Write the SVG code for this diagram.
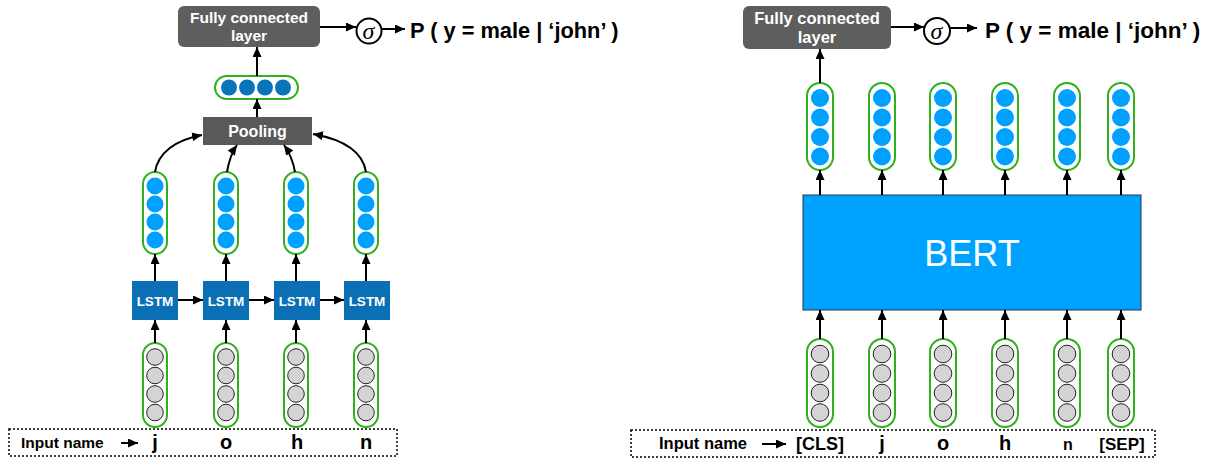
<svg xmlns="http://www.w3.org/2000/svg" xmlns:xlink="http://www.w3.org/1999/xlink" width="1205" height="461" viewBox="0 0 1205 461">
<style>
.fc{fill:#5E5E5E;}
.gbox{fill:#595959;}
.lstm{fill:#0A6FB5;}
.wt{fill:#fff;font-family:"Liberation Sans",Arial,sans-serif;font-weight:bold;text-anchor:middle;}
.bt{fill:#000;font-family:"Liberation Sans",Arial,sans-serif;font-weight:bold;}
.pill{fill:#fff;stroke:#2FB01C;stroke-width:2;}
.cb{fill:#00A0FF;}
.cd{fill:#0A74BA;}
.cg{fill:#D4D4D4;stroke:#222;stroke-width:1;}
.ln{stroke:#000;stroke-width:2;fill:none;}
.sg{fill:#fff;stroke:#000;stroke-width:2;}
.st{font-family:"Liberation Serif",serif;font-style:italic;text-anchor:middle;fill:#000;}
</style>
<defs>
<marker id="ah" markerUnits="userSpaceOnUse" markerWidth="10" markerHeight="9" refX="10" refY="4.5" orient="auto">
<path d="M0,0 L10,4.5 L0,9 z" fill="#000"/>
</marker>
<g id="outL"><rect class="pill" x="-12" y="0" width="24" height="82" rx="12"/><circle class="cb" cx="0" cy="14" r="8.5"/><circle class="cb" cx="0" cy="32" r="8.5"/><circle class="cb" cx="0" cy="50" r="8.5"/><circle class="cb" cx="0" cy="68" r="8.5"/></g>
<g id="inL"><rect class="pill" x="-12" y="0" width="24" height="84" rx="12"/><circle class="cg" cx="0" cy="14" r="8.3"/><circle class="cg" cx="0" cy="32.5" r="8.3"/><circle class="cg" cx="0" cy="51" r="8.3"/><circle class="cg" cx="0" cy="69.5" r="8.3"/></g>
<g id="outR"><rect class="pill" x="-13" y="0" width="26" height="87" rx="13"/><circle class="cb" cx="0" cy="15" r="9"/><circle class="cb" cx="0" cy="34.5" r="9"/><circle class="cb" cx="0" cy="54" r="9"/><circle class="cb" cx="0" cy="73.5" r="9"/></g>
<g id="inR"><rect class="pill" x="-13" y="0" width="26" height="88" rx="13"/><circle class="cg" cx="0" cy="15" r="8.8"/><circle class="cg" cx="0" cy="34.5" r="8.8"/><circle class="cg" cx="0" cy="54" r="8.8"/><circle class="cg" cx="0" cy="73.5" r="8.8"/></g>
</defs>
<rect width="1205" height="461" fill="#fff"/>

<!-- LEFT: LSTM model -->
<g id="fcL"><rect class="fc" x="178" y="6" width="142" height="41" rx="6"/><text class="wt" x="249" y="23" font-size="15.5">Fully connected</text><text class="wt" x="249" y="41" font-size="15.5">layer</text></g>
<g id="sigmaL"><circle class="sg" cx="369" cy="31" r="12.5"/><text class="st" x="368.5" y="38.5" font-size="24">σ</text></g>
<g id="probL"><text class="bt" x="410" y="38" font-size="21.8">P ( y = male | ‘john’ )</text></g>
<g id="pooledL"><rect class="pill" x="215" y="76" width="83" height="23" rx="11.5"/><circle class="cd" cx="229" cy="87.5" r="8"/><circle class="cd" cx="247" cy="87.5" r="8"/><circle class="cd" cx="265" cy="87.5" r="8"/><circle class="cd" cx="283" cy="87.5" r="8"/></g>
<g id="pooling"><rect class="gbox" x="203" y="117" width="109" height="28"/><text class="wt" x="257.5" y="137" font-size="16">Pooling</text></g>
<g id="hL1"><use xlink:href="#outL" x="155" y="172"/></g>
<g id="hL2"><use xlink:href="#outL" x="226" y="172"/></g>
<g id="hL3"><use xlink:href="#outL" x="296" y="172"/></g>
<g id="hL4"><use xlink:href="#outL" x="366" y="172"/></g>
<g id="lstm1"><rect class="lstm" x="132" y="281" width="46" height="39"/><text class="wt" x="155" y="306" font-size="13.5">LSTM</text></g>
<g id="lstm2"><rect class="lstm" x="203" y="281" width="46" height="39"/><text class="wt" x="226" y="306" font-size="13.5">LSTM</text></g>
<g id="lstm3"><rect class="lstm" x="274" y="281" width="46" height="39"/><text class="wt" x="297" y="306" font-size="13.5">LSTM</text></g>
<g id="lstm4"><rect class="lstm" x="344" y="281" width="46" height="39"/><text class="wt" x="367" y="306" font-size="13.5">LSTM</text></g>
<g id="eL1"><use xlink:href="#inL" x="155" y="343"/></g>
<g id="eL2"><use xlink:href="#inL" x="226" y="343"/></g>
<g id="eL3"><use xlink:href="#inL" x="296" y="343"/></g>
<g id="eL4"><use xlink:href="#inL" x="366" y="343"/></g>
<g id="inputL"><rect x="9" y="429" width="388" height="27" fill="none" stroke="#000" stroke-width="1.5" stroke-dasharray="2,2"/>
<text class="bt" x="21" y="448" font-size="15.5">Input name</text>
<text class="bt" x="155" y="449" font-size="20" text-anchor="middle">j</text>
<text class="bt" x="226" y="449" font-size="20" text-anchor="middle">o</text>
<text class="bt" x="297" y="449" font-size="20" text-anchor="middle">h</text>
<text class="bt" x="366" y="449" font-size="20" text-anchor="middle">n</text></g>

<!-- RIGHT: BERT model -->
<g id="fcR"><rect class="fc" x="743" y="6" width="148" height="43" rx="6"/><text class="wt" x="817" y="24" font-size="16.5">Fully connected</text><text class="wt" x="817" y="43" font-size="16.5">layer</text></g>
<g id="sigmaR"><circle class="sg" cx="937" cy="31" r="13"/><text class="st" x="936.5" y="38.5" font-size="24">σ</text></g>
<g id="probR"><text class="bt" x="985" y="38" font-size="22.5">P ( y = male | ‘john’ )</text></g>
<g id="hR1"><use xlink:href="#outR" x="820" y="83"/></g>
<g id="hR2"><use xlink:href="#outR" x="882" y="83"/></g>
<g id="hR3"><use xlink:href="#outR" x="943" y="83"/></g>
<g id="hR4"><use xlink:href="#outR" x="1005" y="83"/></g>
<g id="hR5"><use xlink:href="#outR" x="1067" y="83"/></g>
<g id="hR6"><use xlink:href="#outR" x="1121" y="83"/></g>
<g id="bert"><rect x="803" y="195" width="338" height="115" fill="#00A2FF" stroke="#1d3a55" stroke-width="1"/><text x="972" y="266" font-family="Liberation Sans,Arial,sans-serif" font-size="36" fill="#fff" text-anchor="middle">BERT</text></g>
<g id="eR1"><use xlink:href="#inR" x="820" y="339"/></g>
<g id="eR2"><use xlink:href="#inR" x="882" y="339"/></g>
<g id="eR3"><use xlink:href="#inR" x="943" y="339"/></g>
<g id="eR4"><use xlink:href="#inR" x="1005" y="339"/></g>
<g id="eR5"><use xlink:href="#inR" x="1067" y="339"/></g>
<g id="eR6"><use xlink:href="#inR" x="1121" y="339"/></g>
<g id="inputR"><rect x="631" y="430" width="524" height="27" fill="none" stroke="#000" stroke-width="1.5" stroke-dasharray="2,2"/>
<text class="bt" x="659" y="449" font-size="16.5">Input name</text>
<text class="bt" x="820" y="450" font-size="18" text-anchor="middle">[CLS]</text>
<text class="bt" x="882" y="450" font-size="20" text-anchor="middle">j</text>
<text class="bt" x="943" y="450" font-size="20" text-anchor="middle">o</text>
<text class="bt" x="1005" y="450" font-size="20" text-anchor="middle">h</text>
<text class="bt" x="1068" y="450" font-size="16" text-anchor="middle">n</text>
<text class="bt" x="1122" y="450" font-size="17" text-anchor="middle">[SEP]</text></g>

<g id="connectors">
<line class="ln" x1="320" y1="27" x2="356" y2="27" marker-end="url(#ah)"/>
<line class="ln" x1="381.5" y1="29" x2="405" y2="29" marker-end="url(#ah)"/>
<line class="ln" x1="257" y1="76" x2="257" y2="47" marker-end="url(#ah)"/>
<line class="ln" x1="257" y1="117" x2="257" y2="99" marker-end="url(#ah)"/>
<path class="ln" d="M155,172 C158,153 175,140 202,135" marker-end="url(#ah)"/>
<path class="ln" d="M227,172 C229,160 232,152 237,145" marker-end="url(#ah)"/>
<path class="ln" d="M295,172 C293,160 289,152 284,145" marker-end="url(#ah)"/>
<path class="ln" d="M366,172 C363,153 346,140 313,134" marker-end="url(#ah)"/>
<line class="ln" x1="155" y1="281" x2="155" y2="254" marker-end="url(#ah)"/>
<line class="ln" x1="226" y1="281" x2="226" y2="254" marker-end="url(#ah)"/>
<line class="ln" x1="296" y1="281" x2="296" y2="254" marker-end="url(#ah)"/>
<line class="ln" x1="366" y1="281" x2="366" y2="254" marker-end="url(#ah)"/>
<line class="ln" x1="178" y1="300" x2="203" y2="300" marker-end="url(#ah)"/>
<line class="ln" x1="249" y1="300" x2="274" y2="300" marker-end="url(#ah)"/>
<line class="ln" x1="320" y1="300" x2="344" y2="300" marker-end="url(#ah)"/>
<line class="ln" x1="155" y1="343" x2="155" y2="320" marker-end="url(#ah)"/>
<line class="ln" x1="226" y1="343" x2="226" y2="320" marker-end="url(#ah)"/>
<line class="ln" x1="296" y1="343" x2="296" y2="320" marker-end="url(#ah)"/>
<line class="ln" x1="366" y1="343" x2="366" y2="320" marker-end="url(#ah)"/>
<line class="ln" x1="121" y1="443" x2="138" y2="443" marker-end="url(#ah)"/>

<line class="ln" x1="891" y1="27" x2="924" y2="27" marker-end="url(#ah)"/>
<line class="ln" x1="950" y1="28" x2="977" y2="28" marker-end="url(#ah)"/>
<line class="ln" x1="820" y1="83" x2="820" y2="49" marker-end="url(#ah)"/>
<line class="ln" x1="820" y1="195" x2="820" y2="170" marker-end="url(#ah)"/>
<line class="ln" x1="882" y1="195" x2="882" y2="170" marker-end="url(#ah)"/>
<line class="ln" x1="943" y1="195" x2="943" y2="170" marker-end="url(#ah)"/>
<line class="ln" x1="1005" y1="195" x2="1005" y2="170" marker-end="url(#ah)"/>
<line class="ln" x1="1067" y1="195" x2="1067" y2="170" marker-end="url(#ah)"/>
<line class="ln" x1="1121" y1="195" x2="1121" y2="170" marker-end="url(#ah)"/>
<line class="ln" x1="820" y1="339" x2="820" y2="310" marker-end="url(#ah)"/>
<line class="ln" x1="882" y1="339" x2="882" y2="310" marker-end="url(#ah)"/>
<line class="ln" x1="943" y1="339" x2="943" y2="310" marker-end="url(#ah)"/>
<line class="ln" x1="1005" y1="339" x2="1005" y2="310" marker-end="url(#ah)"/>
<line class="ln" x1="1067" y1="339" x2="1067" y2="310" marker-end="url(#ah)"/>
<line class="ln" x1="1121" y1="339" x2="1121" y2="310" marker-end="url(#ah)"/>
<line class="ln" x1="762" y1="444" x2="786" y2="444" marker-end="url(#ah)"/>
</g>
</svg>
